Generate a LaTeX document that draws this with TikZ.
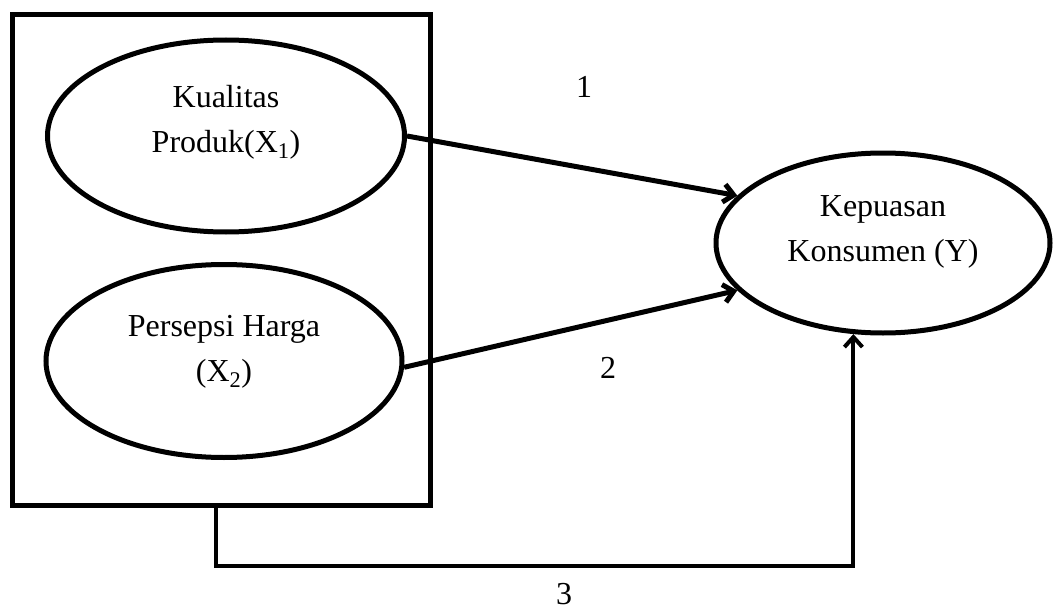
\documentclass[tikz,border=0pt]{standalone}
\usepackage{fontspec}
\setmainfont{Liberation Serif}
\usetikzlibrary{shapes.geometric,arrows.meta}
\begin{document}
\begin{tikzpicture}[x=1pt,y=-1pt,
  every node/.style={font=\fontsize{32}{45}\selectfont},
  ell/.style={ellipse, draw, line width=5pt, inner sep=0pt},
  lbl/.style={align=center, inner sep=0pt},
  boxst/.style={draw, line width=5pt, inner sep=0pt, minimum width=418pt, minimum height=490pt},
  arr/.style={line width=5pt, -{Straight Barb[length=10pt,width=18pt]}},
  num/.style={inner sep=0pt}]
\useasboundingbox (0,0) rectangle (1053,610);
\node[boxst] (box) at (221,260) {};
\node[ell, minimum width=357pt, minimum height=192pt,
  label={[lbl,yshift=14pt]center:{Kualitas\\Produk(X\textsubscript{1})}}] (x1) at (226,136) {};
\node[ell, minimum width=356pt, minimum height=193pt,
  label={[lbl,yshift=9pt]center:{Persepsi Harga\\(X\textsubscript{2})}}] (x2) at (224,361) {};
\node[ell, minimum width=334pt, minimum height=180pt,
  label={[lbl,yshift=11pt]center:{Kepuasan\\Konsumen (Y)}}] (y) at (883,243) {};
\coordinate (c3) at (216,566);
\draw[arr] (x1.east) -- (y.162);
\draw[arr] (x2.-2) -- (y.198);
\draw[arr, line width=4pt] (c3 |- box.south) -- (c3) -| (y.252);
\node[num] (n1) at (584,87) {1};
\node[num] (n2) at (608,368) {2};
\node[num] (n3) at (564,594) {3};
\end{tikzpicture}
\end{document}
